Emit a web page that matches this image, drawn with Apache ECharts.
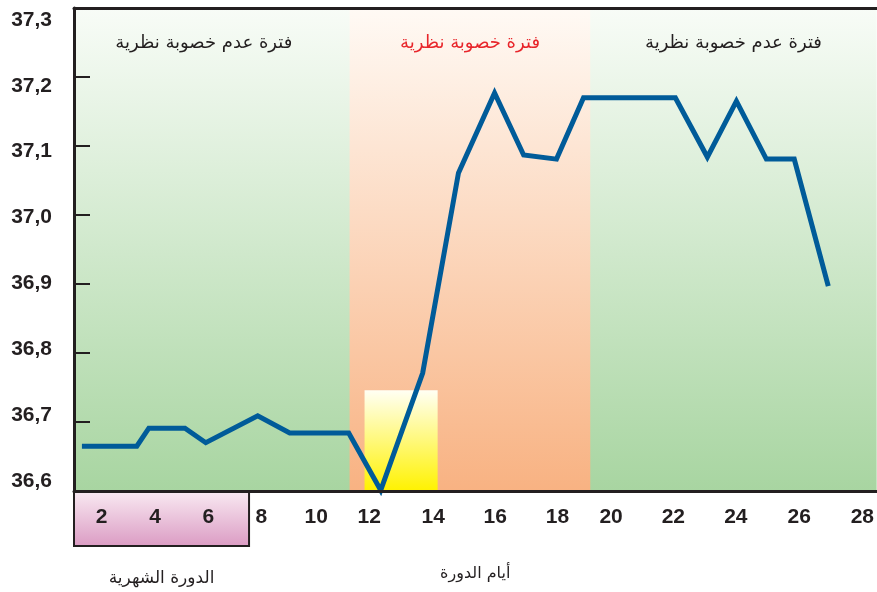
<!DOCTYPE html>
<html>
<head>
<meta charset="utf-8">
<script src="https://cdn.jsdelivr.net/npm/echarts@6/dist/echarts.min.js"></script>
<style>
  html, body { margin: 0; padding: 0; background: #ffffff; }
  #chart { width: 877px; height: 592px; }
</style>
</head>
<body>
<div id="chart"></div>
<script>
// day of cycle (x) and basal temperature (y) for each vertex of the curve
const dayPos = [1.77, 3.64, 4.05, 5.28, 5.99, 7.76, 8.85, 10.86, 11.95, 13.38, 14.60, 15.83, 16.82, 17.94, 18.86, 21.99, 23.08, 24.07, 25.09, 26.04, 27.20]
const temps = [36.665, 36.665, 36.691, 36.691, 36.670, 36.709, 36.684, 36.684, 36.601, 36.771, 37.061, 37.177, 37.087, 37.081, 37.170, 37.170, 37.084, 37.165, 37.081, 37.081, 36.897]

// the printed day scale is not quite even, so these are where each
// day label sits on the axis (label text = rounded value)
const xTickDays = [2.44, 4.26, 6.08, 7.88, 9.75, 11.56, 13.74, 15.85, 17.97, 19.80, 21.92, 24.05, 26.21, 28.36]
const yLabels = [36.6, 36.7, 36.8, 36.9, 37.0, 37.1, 37.2, 37.3]

// phases of the cycle (start day, end day, title)
const phaseStart = [1.5, 10.89, 19.10]
const phaseEnd = [10.89, 19.10, 28.84]
const phaseNames = ['فترة عدم خصوبة نظرية', 'فترة خصوبة نظرية', 'فترة عدم خصوبة نظرية']
const phaseFertile = [false, true, false]

// ovulation window [from day, to day, top temperature]
const ovulation = [11.40, 13.89, 36.746]
// menstruation days
const period = [1.5, 7.46]

const xMin = 1.5
const xMax = 28.84

const chart = echarts.init(document.getElementById('chart'))

const grad = (top, bottom) => new echarts.graphic.LinearGradient(0, 0, 0, 1, [
  { offset: 0, color: top },
  { offset: 1, color: bottom }
])

const greenFill = () => grad('#f8fcf7', '#a8d5a1')
const orangeFill = () => grad('#fffaf5', '#f8b282')

const numFont = {
  fontFamily: 'Liberation Sans, Arial, sans-serif',
  fontWeight: 'bold',
  fontSize: 21,
  color: '#231f20'
}

const arabicFont = {
  fontFamily: 'DejaVu Sans, sans-serif',
  color: '#231f20'
}

// plain green under everything so the band edges leave no seam
const baseBand = [
  { xAxis: xMin, itemStyle: { color: greenFill() } },
  { xAxis: xMax }
]

const bandData = phaseStart.map((s, i) => [
  {
    xAxis: s,
    itemStyle: {
      color: phaseFertile[i] ? orangeFill() : greenFill()
    },
    label: {
      show: true,
      position: 'insideTop',
      distance: 26,
      offset: i === 0 ? [-8, 0] : [0, 0],
      formatter: phaseNames[i],
      ...arabicFont,
      fontSize: 18,
      color: phaseFertile[i] ? '#e8262b' : '#231f20'
    }
  },
  { xAxis: phaseEnd[i] }
])

chart.setOption({
  animation: false,
  backgroundColor: '#ffffff',
  grid: [
    { left: 74, right: 0, top: 8, bottom: 101 },
    { left: 74, right: 0, top: 491, height: 55 }
  ],
  xAxis: [
    {
      type: 'value',
      gridIndex: 0,
      z: 5,
      min: xMin,
      max: xMax,
      name: 'أيام الدورة',
      nameLocation: 'middle',
      nameGap: 75,
      nameTextStyle: { ...arabicFont, fontSize: 16 },
      axisLine: { lineStyle: { color: '#231f20', width: 3 } },
      axisTick: { show: false },
      splitLine: { show: false },
      axisLabel: {
        customValues: xTickDays,
        margin: 16,
        formatter: v => String(Math.round(v)),
        ...numFont
      }
    },
    {
      type: 'value',
      gridIndex: 0,
      z: 5,
      position: 'top',
      min: xMin,
      max: xMax,
      axisLine: { lineStyle: { color: '#231f20', width: 3 } },
      axisTick: { show: false },
      axisLabel: { show: false },
      splitLine: { show: false }
    },
    {
      type: 'value',
      gridIndex: 1,
      min: xMin,
      max: xMax,
      show: false
    }
  ],
  yAxis: [
    {
      type: 'value',
      gridIndex: 0,
      z: 5,
      min: 36.6,
      max: 37.3,
      interval: 0.1,
      axisLine: { show: true, lineStyle: { color: '#231f20', width: 3 } },
      axisTick: { show: true, inside: true, length: 16, lineStyle: { color: '#231f20', width: 2 } },
      axisLabel: { show: false },
      splitLine: { show: false }
    },
    {
      // labels only, set slightly inside the tick range like in the print
      type: 'value',
      gridIndex: 0,
      z: 5,
      position: 'left',
      min: 36.5848,
      max: 37.3182,
      axisLine: { show: false },
      axisTick: { show: false },
      splitLine: { show: false },
      axisLabel: {
        customValues: yLabels,
        margin: 22,
        formatter: v => v.toFixed(1).replace('.', ','),
        ...numFont
      }
    },
    {
      type: 'value',
      gridIndex: 1,
      min: 0,
      max: 1,
      show: false
    }
  ],
  series: [
    {
      name: 'phases',
      type: 'line',
      xAxisIndex: 0,
      yAxisIndex: 0,
      z: -1,
      data: [],
      markArea: {
        silent: true,
        data: [baseBand].concat(bandData, [[
          {
            coord: [ovulation[0], ovulation[2]],
            itemStyle: { color: grad('#fffff4', '#fff200') }
          },
          { coord: [ovulation[1], 36.6] }
        ]])
      }
    },
    {
      name: 'period',
      type: 'line',
      xAxisIndex: 2,
      yAxisIndex: 2,
      z: -1,
      data: [],
      markArea: {
        silent: true,
        z: 0,
        data: [[
          {
            xAxis: period[0],
            itemStyle: {
              color: grad('#f9ebf3', '#db9bc3'),
              borderColor: '#231f20',
              borderWidth: 2
            },
            label: {
              show: true,
              position: 'bottom',
              distance: 23,
              formatter: 'الدورة الشهرية',
              ...arabicFont,
              fontSize: 17
            }
          },
          { xAxis: period[1] }
        ]]
      }
    },
    {
      name: 'temperature',
      type: 'line',
      xAxisIndex: 0,
      yAxisIndex: 0,
      z: 3,
      clip: false,
      symbol: 'none',
      data: dayPos.map((d, i) => [d, temps[i]]),
      lineStyle: { color: '#005b99', width: 5, join: 'miter' }
    }
  ]
})
</script>
</body>
</html>
